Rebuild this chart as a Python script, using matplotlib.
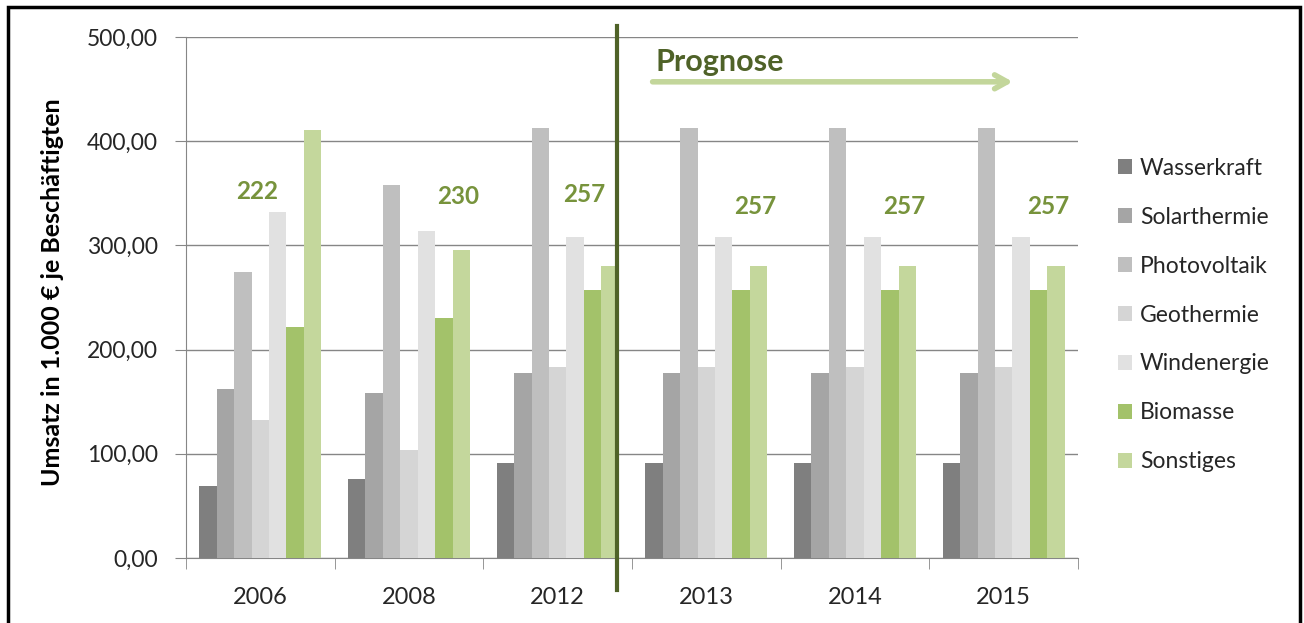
import matplotlib
matplotlib.use("Agg")
import matplotlib.pyplot as plt
import numpy as np
from matplotlib.patches import Rectangle

years = ["2006", "2008", "2012", "2013", "2014", "2015"]
series = ["Wasserkraft", "Solarthermie", "Photovoltaik", "Geothermie",
          "Windenergie", "Biomasse", "Sonstiges"]
wasserkraft = [69, 76, 91, 91, 91, 91]
solarthermie = [162, 158, 178, 178, 178, 178]
photovoltaik = [274, 358, 413, 413, 413, 413]
geothermie = [132, 104, 183, 183, 183, 183]
windenergie = [332, 314, 308, 308, 308, 308]
biomasse = [222, 230, 257, 257, 257, 257]
sonstiges = [411, 296, 280, 280, 280, 280]
labels_biomasse = ["222", "230", "257", "257", "257", "257"]

values = [wasserkraft, solarthermie, photovoltaik, geothermie,
          windenergie, biomasse, sonstiges]
colors = ["#7f7f7f", "#a5a5a5", "#bfbfbf", "#d5d5d5", "#e1e1e1",
          "#a3c26a", "#c4d79c"]

plt.rcParams["font.family"] = ["Lato", "DejaVu Sans"]
fig = plt.figure(figsize=(13.04, 6.23), dpi=100)
ax = fig.add_axes([186 / 1304, 65 / 623, 892 / 1304, 521 / 623])

x = np.arange(len(years))
n = len(series)
total = 0.82
w = total / n
for i, (vals, c) in enumerate(zip(values, colors)):
    ax.bar(x - total / 2 + w * (i + 0.5), vals, width=w, color=c,
           edgecolor="none", zorder=3, label=series[i])

# data labels for Biomasse
lab_dx = [-0.02, 0.33, 0.18, 0.33, 0.33, 0.30]
lab_y = [352, 347, 349, 337, 337, 337]
for xi, dx, yy, t in zip(x, lab_dx, lab_y, labels_biomasse):
    ax.text(xi + dx, yy, t, ha="center", va="center", fontsize=17.5,
            fontweight="bold", color="#77933c", zorder=5)

ax.set_xlim(-0.5, len(years) - 0.5)
ax.set_ylim(0, 500)
ax.set_yticks(np.arange(0, 501, 100))
ax.set_yticklabels([f"{v:.2f}".replace(".", ",") for v in np.arange(0, 501, 100)])
ax.set_xticks(x)
ax.set_xticklabels(years)
ax.set_xticks(np.arange(-0.5, len(years)), minor=True)
ax.tick_params(axis="x", which="major", length=0, pad=21, labelsize=17,
               labelcolor="#262626")
ax.tick_params(axis="x", which="minor", length=8, color="#868686", direction="out")
ax.tick_params(axis="y", length=8, color="#868686", pad=12, labelsize=16.5,
               labelcolor="#262626")
ax.grid(axis="y", color="#868686", lw=1, zorder=0)
for s in ("top", "right"):
    ax.spines[s].set_visible(False)
for s in ("left", "bottom"):
    ax.spines[s].set_color("#868686")
ax.set_ylabel("Umsatz in 1.000 € je Beschäftigten", fontsize=18,
              fontweight="bold")
ax.yaxis.set_label_coords(-0.137, 0.51)

# Prognose separator and arrow
ax.plot([2.397, 2.397], [-31, 511], color="#4f6228", lw=3, clip_on=False, zorder=6)
ax.annotate("", xy=(5.08, 457), xytext=(2.62, 457),
            arrowprops=dict(arrowstyle="->,head_length=0.9,head_width=0.5",
                            color="#c3d69b", lw=4), zorder=6)
ax.text(2.655, 476, "Prognose", fontsize=22, fontweight="bold",
        color="#4f6228", ha="left", va="center")

leg = fig.legend(loc="upper left", bbox_to_anchor=(1097 / 1304, 1 - 137 / 623),
                 frameon=False, fontsize=16.5, handlelength=0.62, handleheight=0.62,
                 handletextpad=0.35, labelspacing=1.22, labelcolor="#262626")

fig.patches.append(Rectangle((8 / 1304, -0.1), 1292 / 1304, 1.1 - 7 / 623,
                             transform=fig.transFigure, fill=False,
                             edgecolor="black", lw=2.5))
fig.savefig("out.png", dpi=100)
